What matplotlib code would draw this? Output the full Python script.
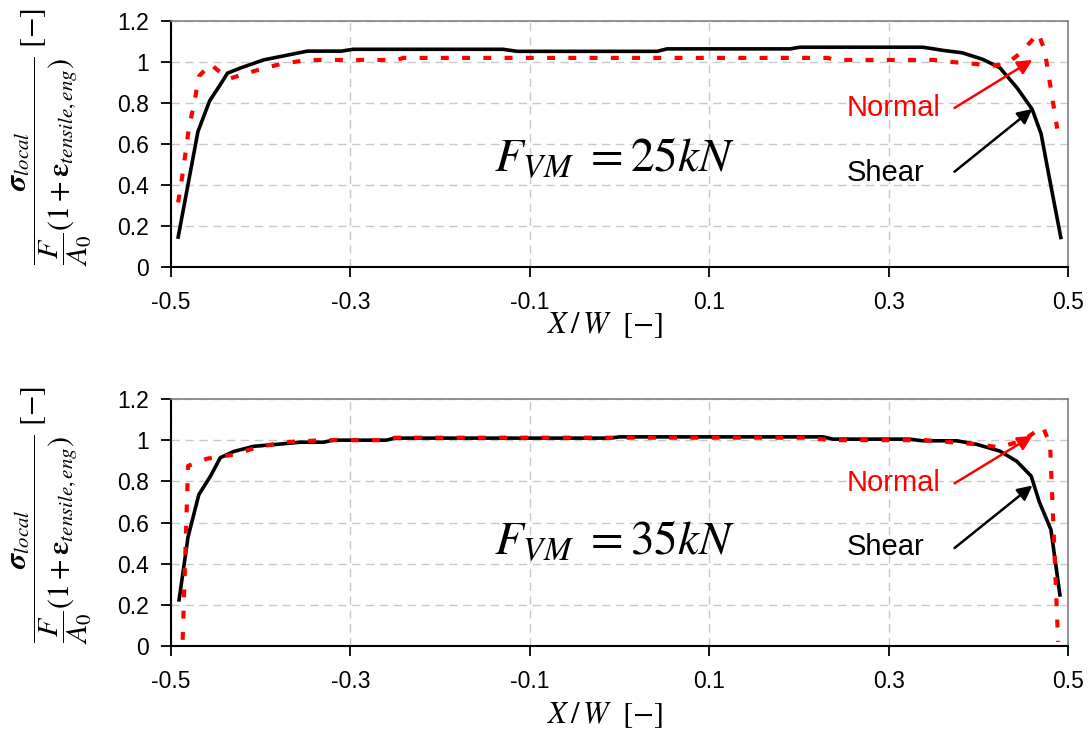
import matplotlib
matplotlib.use('Agg')
import matplotlib.pyplot as plt

plt.rcParams['font.family'] = ['Liberation Sans', 'DejaVu Sans']
plt.rcParams['mathtext.fontset'] = 'stix'

# ---- data ----
x_ticks = [-0.5, -0.3, -0.1, 0.1, 0.3, 0.5]
x_ticklabels = ['-0.5', '-0.3', '-0.1', '0.1', '0.3', '0.5']
y_ticks = [0, 0.2, 0.4, 0.6, 0.8, 1.0, 1.2]
y_ticklabels = ['0', '0.2', '0.4', '0.6', '0.8', '1', '1.2']

# F_VM = 25 kN
x25_shear = [-0.492, -0.47, -0.457, -0.445, -0.437, -0.423, -0.397, -0.348, -0.31, -0.297,
             -0.13, -0.114, 0.042, 0.053, 0.19, 0.201, 0.338, 0.349, 0.36, 0.382,
             0.405, 0.424, 0.443, 0.46, 0.47, 0.479, 0.492]
y25_shear = [0.146, 0.66, 0.81, 0.89, 0.946, 0.97, 1.01, 1.053, 1.053, 1.062,
             1.062, 1.052, 1.052, 1.064, 1.064, 1.072, 1.072, 1.065, 1.057, 1.045,
             1.013, 0.972, 0.875, 0.77, 0.65, 0.44, 0.144]
x25_normal = [-0.492, -0.487, -0.48, -0.474, -0.469, -0.456, -0.448, -0.434, -0.404, -0.378,
              -0.348, -0.248, -0.241, 0.232, 0.24, 0.35, 0.371, 0.398, 0.412, 0.431,
              0.446, 0.467, 0.474, 0.479, 0.488]
y25_normal = [0.315, 0.456, 0.68, 0.8, 0.93, 0.99, 0.96, 0.92, 0.96, 0.99,
              1.01, 1.01, 1.02, 1.02, 1.01, 1.01, 1.0, 0.99, 0.98, 0.99,
              1.04, 1.14, 1.055, 0.92, 0.675]

# F_VM = 35 kN
x35_shear = [-0.491, -0.481, -0.469, -0.456, -0.445, -0.43, -0.408, -0.381, -0.356, -0.33,
             -0.319, -0.26, -0.25, -0.01, 0.0, 0.227, 0.238, 0.323, 0.338, 0.376,
             0.398, 0.424, 0.443, 0.459, 0.468, 0.481, 0.491]
y35_shear = [0.224, 0.53, 0.735, 0.825, 0.915, 0.945, 0.97, 0.98, 0.99, 0.99,
             1.0, 1.0, 1.01, 1.01, 1.016, 1.016, 1.005, 1.005, 0.997, 0.997,
             0.98, 0.947, 0.897, 0.825, 0.70, 0.565, 0.248]
x35_normal = [-0.487, -0.484, -0.481, -0.46, -0.43, -0.404, -0.375, -0.33, -0.26, -0.25,
              0.21, 0.235, 0.34, 0.37, 0.398, 0.424, 0.45, 0.472, 0.48, 0.489]
y35_normal = [0.03, 0.45, 0.875, 0.91, 0.93, 0.965, 0.99, 1.0, 1.0, 1.012,
              1.012, 1.0, 1.0, 0.99, 0.98, 0.965, 1.0, 1.065, 0.98, 0.02]

force_labels = [r'$F_{VM}\ = \mathit{25kN}$', r'$F_{VM}\ = \mathit{35kN}$']
force_y = [0.465, 0.443]
normal_y = [0.7375, 0.751]
shear_y = [0.4215, 0.443]
# arrows: (tip, tail)
normal_arrows = [((0.4603, 1.01), (0.3735, 0.776)), ((0.4603, 1.021), (0.3735, 0.79))]
shear_arrows = [((0.4603, 0.771), (0.3735, 0.465)), ((0.4603, 0.78), (0.3735, 0.476))]

shear_sets = [(x25_shear, y25_shear), (x35_shear, y35_shear)]
normal_sets = [(x25_normal, y25_normal), (x35_normal, y35_normal)]

W, H = 1091, 738
fig = plt.figure(figsize=(W / 100, H / 100), dpi=100)
rects = [(171, 21, 897, 246), (171, 399, 897, 247)]
xlabel_base = [333, 723]

ylab = (r'$\dfrac{\boldsymbol{\sigma}_{local}}'
        r'{\dfrac{F}{A_0}\left(1+\boldsymbol{\varepsilon}_{tensile,eng}\right)}\ [-]$')

for i, (l, t, w, h) in enumerate(rects):
    ax = fig.add_axes([l / W, 1 - (t + h) / H, w / W, h / H])
    xs, ys = shear_sets[i]
    xn, yn = normal_sets[i]
    ax.plot(xs, ys, color='black', lw=2.6, solid_joinstyle='round', zorder=3)
    ax.plot(xn, yn, color='#ff0000', lw=3.0, dashes=(1.9, 3.2),
            dash_capstyle='butt', zorder=4)
    ax.set_xlim(-0.5, 0.5)
    ax.set_ylim(0, 1.2)
    ax.set_xticks(x_ticks)
    ax.set_xticklabels(x_ticklabels)
    ax.set_yticks(y_ticks)
    ax.set_yticklabels(y_ticklabels)
    ax.tick_params(direction='out', length=7, width=1.3, labelsize=16.5)
    ax.tick_params(axis='x', pad=10)
    ax.tick_params(axis='y', pad=9)
    ax.grid(True, color='#c8c8c8', linestyle=(0, (6, 4)), linewidth=1)
    ax.set_axisbelow(True)
    for s in ('left', 'bottom'):
        ax.spines[s].set_color('black')
        ax.spines[s].set_linewidth(1.5)
    for s in ('top', 'right'):
        ax.spines[s].set_color('#808080')
        ax.spines[s].set_linewidth(1.2)

    ax.text(-0.006, force_y[i], force_labels[i], fontsize=34, ha='center', va='baseline')
    ax.text(0.2533, normal_y[i], 'Normal', color='#ff0000', fontsize=21, va='baseline')
    ax.text(0.2533, shear_y[i], 'Shear', color='black', fontsize=21, va='baseline')
    for (tip, tail), c in ((normal_arrows[i], '#ff0000'), (shear_arrows[i], 'black')):
        ax.annotate('', xy=tip, xytext=tail,
                    arrowprops=dict(arrowstyle='-|>', color=c, lw=1.8,
                                    mutation_scale=22, shrinkA=0, shrinkB=0))

    fig.text(605 / W, 1 - xlabel_base[i] / H, r'$X\,/\,W\ \ [-]$', fontsize=22,
             ha='center', va='baseline')
    fig.text(52 / W, 1 - (t + 116) / H, ylab, fontsize=21.5, rotation=90,
             ha='center', va='center')

fig.savefig('out.png', dpi=100, facecolor='white')
